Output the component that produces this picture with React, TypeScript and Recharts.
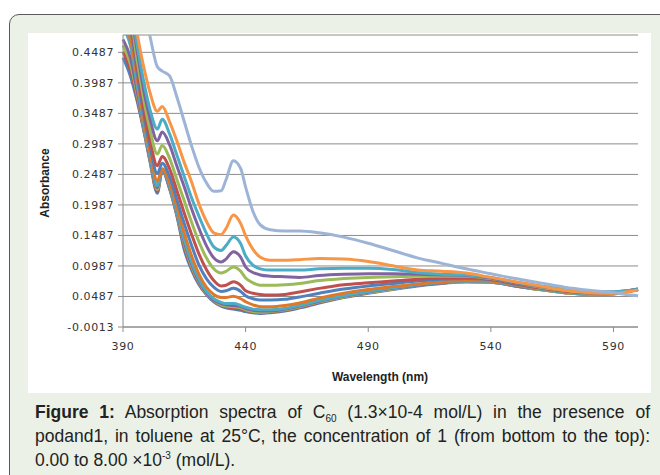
import React from 'react';
import { LineChart, Line, XAxis, YAxis, CartesianGrid, Label } from 'recharts';

const wavelengths = [390, 393, 396, 399, 401, 404, 406, 409, 412, 415, 418, 421, 424, 427, 430, 432, 435, 438, 440, 443, 446, 450, 456, 462, 470, 480, 490, 500, 510, 520, 530, 540, 550, 560, 570, 580, 590, 595, 600];

// bottom (0.00) to top (8.00e-3)
const s1 = [0.44, 0.41, 0.365, 0.31, 0.27, 0.218, 0.255, 0.225, 0.18, 0.125, 0.092, 0.068, 0.052, 0.04, 0.033, 0.03, 0.028, 0.026, 0.024, 0.022, 0.021, 0.022, 0.025, 0.03, 0.038, 0.047, 0.054, 0.06, 0.066, 0.07, 0.073, 0.072, 0.066, 0.06, 0.055, 0.052, 0.053, 0.057, 0.061];
const s2 = [0.45, 0.42, 0.37, 0.312, 0.272, 0.221, 0.256, 0.226, 0.182, 0.13, 0.095, 0.07, 0.053, 0.041, 0.034, 0.032, 0.03, 0.028, 0.026, 0.023, 0.022, 0.023, 0.026, 0.031, 0.039, 0.048, 0.055, 0.061, 0.067, 0.071, 0.073, 0.072, 0.066, 0.06, 0.055, 0.052, 0.053, 0.056, 0.06];
const s3 = [0.46, 0.43, 0.375, 0.314, 0.274, 0.224, 0.256, 0.227, 0.184, 0.134, 0.098, 0.072, 0.054, 0.042, 0.035, 0.033, 0.032, 0.03, 0.027, 0.024, 0.023, 0.024, 0.027, 0.032, 0.04, 0.048, 0.055, 0.061, 0.067, 0.071, 0.073, 0.072, 0.066, 0.06, 0.055, 0.052, 0.053, 0.056, 0.06];
const s4 = [0.47, 0.44, 0.38, 0.316, 0.276, 0.227, 0.256, 0.228, 0.186, 0.138, 0.101, 0.074, 0.055, 0.043, 0.037, 0.035, 0.034, 0.032, 0.029, 0.026, 0.025, 0.025, 0.028, 0.033, 0.041, 0.049, 0.056, 0.062, 0.067, 0.071, 0.074, 0.073, 0.066, 0.061, 0.056, 0.053, 0.053, 0.056, 0.06];
const s5 = [0.49, 0.46, 0.39, 0.318, 0.278, 0.23, 0.257, 0.23, 0.188, 0.142, 0.105, 0.077, 0.057, 0.045, 0.039, 0.037, 0.037, 0.034, 0.031, 0.028, 0.027, 0.027, 0.029, 0.034, 0.042, 0.05, 0.057, 0.063, 0.068, 0.072, 0.074, 0.073, 0.067, 0.061, 0.056, 0.053, 0.054, 0.057, 0.061];
const s6 = [0.5, 0.47, 0.4, 0.325, 0.285, 0.238, 0.258, 0.235, 0.195, 0.152, 0.115, 0.085, 0.064, 0.052, 0.047, 0.047, 0.049, 0.045, 0.04, 0.035, 0.032, 0.032, 0.034, 0.038, 0.046, 0.054, 0.06, 0.065, 0.069, 0.073, 0.075, 0.074, 0.068, 0.062, 0.057, 0.054, 0.054, 0.057, 0.061];
const s7 = [0.52, 0.49, 0.41, 0.335, 0.295, 0.25, 0.267, 0.245, 0.207, 0.168, 0.132, 0.1, 0.078, 0.064, 0.057, 0.058, 0.062, 0.057, 0.05, 0.045, 0.043, 0.043, 0.044, 0.048, 0.054, 0.061, 0.066, 0.07, 0.074, 0.077, 0.078, 0.076, 0.069, 0.063, 0.058, 0.055, 0.055, 0.057, 0.06];
const s8 = [0.54, 0.5, 0.42, 0.345, 0.305, 0.263, 0.278, 0.258, 0.222, 0.185, 0.15, 0.118, 0.093, 0.075, 0.066, 0.067, 0.073, 0.067, 0.058, 0.054, 0.052, 0.051, 0.052, 0.056, 0.062, 0.068, 0.071, 0.074, 0.077, 0.079, 0.08, 0.077, 0.07, 0.063, 0.058, 0.055, 0.055, 0.057, 0.06];
const s9 = [0.56, 0.51, 0.43, 0.36, 0.322, 0.282, 0.296, 0.275, 0.24, 0.205, 0.17, 0.138, 0.112, 0.094, 0.087, 0.09, 0.097, 0.09, 0.079, 0.071, 0.067, 0.067, 0.068, 0.07, 0.075, 0.078, 0.08, 0.081, 0.082, 0.082, 0.082, 0.078, 0.071, 0.064, 0.059, 0.056, 0.055, 0.057, 0.06];
const s10 = [0.58, 0.52, 0.445, 0.375, 0.34, 0.304, 0.318, 0.297, 0.262, 0.228, 0.192, 0.16, 0.132, 0.112, 0.105, 0.11, 0.122, 0.113, 0.097, 0.088, 0.084, 0.082, 0.081, 0.08, 0.083, 0.085, 0.086, 0.086, 0.085, 0.084, 0.083, 0.079, 0.071, 0.065, 0.06, 0.057, 0.056, 0.058, 0.06];
const s11 = [0.6, 0.53, 0.455, 0.39, 0.355, 0.323, 0.339, 0.315, 0.28, 0.245, 0.21, 0.18, 0.152, 0.13, 0.124, 0.132, 0.146, 0.135, 0.115, 0.1, 0.094, 0.092, 0.092, 0.092, 0.094, 0.095, 0.095, 0.093, 0.088, 0.085, 0.084, 0.08, 0.072, 0.066, 0.061, 0.057, 0.056, 0.058, 0.06];
const s12 = [0.62, 0.56, 0.475, 0.415, 0.383, 0.352, 0.36, 0.335, 0.303, 0.268, 0.236, 0.2, 0.172, 0.153, 0.15, 0.16, 0.182, 0.168, 0.148, 0.126, 0.113, 0.108, 0.108, 0.109, 0.111, 0.11, 0.106, 0.099, 0.092, 0.09, 0.087, 0.08, 0.073, 0.066, 0.059, 0.055, 0.054, 0.056, 0.059];
const s13 = [0.66, 0.6, 0.55, 0.51, 0.475, 0.425, 0.418, 0.41, 0.375, 0.335, 0.295, 0.26, 0.235, 0.221, 0.222, 0.24, 0.271, 0.258, 0.228, 0.188, 0.166, 0.158, 0.156, 0.156, 0.153, 0.146, 0.136, 0.124, 0.112, 0.103, 0.094, 0.086, 0.078, 0.071, 0.064, 0.059, 0.055, 0.052, 0.05];

const seriesList = [s1, s2, s3, s4, s5, s6, s7, s8, s9, s10, s11, s12, s13];
const seriesColors = ['#4F81BD', '#C0504D', '#9BBB59', '#8064A2', '#4BACC6', '#E0782A', '#4F81BD', '#C0504D', '#9BBB59', '#8064A2', '#4BACC6', '#F79646', '#9DB4D6'];

const yTicks = [-0.0013, 0.0487, 0.0987, 0.1487, 0.1987, 0.2487, 0.2987, 0.3487, 0.3987, 0.4487];
const xTicks = [390, 440, 490, 540, 590];

const data = wavelengths.map((w, i) => {
  const row: Record<string, number> = { w };
  seriesList.forEach((s, k) => {
    row['s' + (k + 1)] = s[i];
  });
  return row;
});

const tickStyle = { fontFamily: '"DejaVu Sans", sans-serif', fontSize: 11, fill: '#333', letterSpacing: 0.6 };

export default function App() {
  return (
    <div style={{ position: 'absolute', left: 0, top: 0, width: 660, height: 475, overflow: 'hidden', background: '#fff' }}>
      <div style={{ position: 'absolute', left: 9, top: 14, width: 700, height: 520, border: '1.5px solid #5a5a5a', borderRadius: 10, background: '#EBF1E6' }} />
      <div style={{ position: 'absolute', left: 28, top: 33, width: 623, height: 360, background: '#fff' }} />
      <div style={{ position: 'absolute', left: 0, top: 0 }}>
        <LineChart width={660} height={400} data={data} margin={{ top: 35, right: 22, bottom: 43, left: 0 }}>
          <CartesianGrid vertical={false} stroke="#8c8c8c" strokeWidth={1} />
          <XAxis
            dataKey="w"
            type="number"
            domain={[390, 600]}
            ticks={xTicks}
            height={30}
            stroke="#8c8c8c"
            tickSize={5}
            tickMargin={10}
            tick={tickStyle}
          >
            <Label
              content={() => (
                <text x={380} y={381} textAnchor="middle" fontFamily='"Liberation Sans", Arial, sans-serif' fontWeight="bold" fontSize={12} fill="#222">
                  Wavelength (nm)
                </text>
              )}
            />
          </XAxis>
          <YAxis
            type="number"
            domain={[-0.0013, 0.4771]}
            ticks={yTicks}
            allowDataOverflow
            width={123}
            stroke="#8c8c8c"
            tickSize={5}
            tickMargin={4}
            tick={tickStyle}
            tickFormatter={(v: number) => v.toFixed(4)}
          >
            <Label
              content={() => (
                <text x={49} y={183} transform="rotate(-90 49 183)" textAnchor="middle" fontFamily='"Liberation Sans", Arial, sans-serif' fontWeight="bold" fontSize={12} fill="#222">
                  Absorbance
                </text>
              )}
            />
          </YAxis>
          {seriesList.map((_, k) => (
            <Line
              key={k}
              dataKey={'s' + (k + 1)}
              type="monotone"
              stroke={seriesColors[k]}
              strokeWidth={3}
              dot={false}
              isAnimationActive={false}
            />
          ))}
        </LineChart>
      </div>
      <div style={{ position: 'absolute', left: 35, top: 400, width: 615, fontFamily: '"Liberation Sans", Arial, sans-serif', fontSize: 17.5, lineHeight: '24px', color: '#222' }}>
        <div style={{ height: 24, textAlign: 'justify', textAlignLast: 'justify', whiteSpace: 'nowrap' }}>
          <b>Figure 1:</b> Absorption spectra of C<span style={{ fontSize: 10, position: 'relative', top: 4, lineHeight: 0 }}>60</span> (1.3×10-4 mol/L) in the presence of
        </div>
        <div style={{ height: 24, textAlign: 'justify', textAlignLast: 'justify', whiteSpace: 'nowrap' }}>
          podand1, in toluene at 25°C, the concentration of 1 (from bottom to the top):
        </div>
        <div style={{ height: 24, whiteSpace: 'nowrap' }}>
          0.00 to 8.00 ×10<span style={{ fontSize: 10, position: 'relative', top: -7, lineHeight: 0 }}>-3</span> (mol/L).
        </div>
      </div>
    </div>
  );
}
